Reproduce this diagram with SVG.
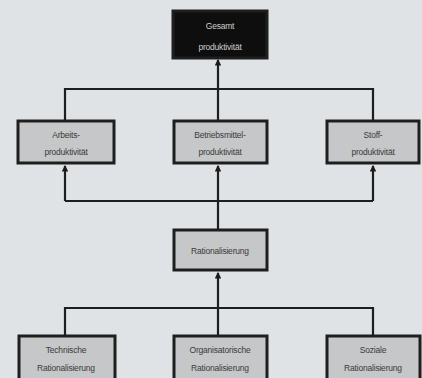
<svg xmlns="http://www.w3.org/2000/svg" width="422" height="378" viewBox="0 0 422 378">
<defs>
<marker id="ah" viewBox="0 0 6 6" refX="5" refY="3" markerWidth="3" markerHeight="3" orient="auto" markerUnits="strokeWidth">
<path d="M0,0 L6,3 L0,6 z" fill="#1a1a1a"/>
</marker>
</defs>
<style>
.bg{fill:#dfe3e5}
.box{fill:#c6c7c8;stroke:#1e1e1e;stroke-width:3}
.top{fill:#0e0e0e;stroke:#1e1e1e;stroke-width:3}
.t{font-family:"Liberation Sans",Arial,sans-serif;font-size:8.5px;fill:#3a3a3a;text-anchor:middle;letter-spacing:-0.2px}
.tw{font-family:"Liberation Sans",Arial,sans-serif;font-size:8.5px;fill:#cfcfcf;text-anchor:middle;letter-spacing:-0.2px}
.ln{fill:none;stroke:#1e1e1e;stroke-width:2.2}
</style>
<rect class="bg" x="0" y="0" width="422" height="378"/>
<g id="connectors">
<path class="ln" d="M65,120 V89 H373 V120"/>
<path class="ln" d="M218,120 V89"/>
<path class="ln" d="M218,89 V60" marker-end="url(#ah)"/>
<path class="ln" d="M65,201 H373"/>
<path class="ln" d="M65,201 V166" marker-end="url(#ah)"/>
<path class="ln" d="M218,229 V166" marker-end="url(#ah)"/>
<path class="ln" d="M373,201 V166" marker-end="url(#ah)"/>
<path class="ln" d="M65,335 V308 H373 V335"/>
<path class="ln" d="M218,335 V273" marker-end="url(#ah)"/>
</g>
<g id="gesamt">
<rect class="top" x="173" y="11" width="94" height="47"/>
<text class="tw" x="220" y="29">Gesamt</text>
<text class="tw" x="220" y="50">produktivität</text>
</g>
<g id="arbeit">
<rect class="box" x="18" y="121" width="96" height="42"/>
<text class="t" x="66" y="138">Arbeits-</text>
<text class="t" x="66" y="155">produktivität</text>
</g>
<g id="betrieb">
<rect class="box" x="174" y="121" width="93" height="42"/>
<text class="t" x="220" y="138">Betriebsmittel-</text>
<text class="t" x="220" y="155">produktivität</text>
</g>
<g id="stoff">
<rect class="box" x="327" y="121" width="92" height="42"/>
<text class="t" x="373" y="138">Stoff-</text>
<text class="t" x="373" y="155">produktivität</text>
</g>
<g id="ratio">
<rect class="box" x="174" y="230" width="93" height="40"/>
<text class="t" x="220" y="254">Rationalisierung</text>
</g>
<g id="technisch">
<rect class="box" x="19" y="336" width="96" height="46"/>
<text class="t" x="66" y="353">Technische</text>
<text class="t" x="66" y="371">Rationalisierung</text>
</g>
<g id="organisatorisch">
<rect class="box" x="174" y="336" width="93" height="46"/>
<text class="t" x="220" y="353">Organisatorische</text>
<text class="t" x="220" y="371">Rationalisierung</text>
</g>
<g id="sozial">
<rect class="box" x="327" y="336" width="93" height="46"/>
<text class="t" x="373" y="353">Soziale</text>
<text class="t" x="373" y="371">Rationalisierung</text>
</g>
</svg>
